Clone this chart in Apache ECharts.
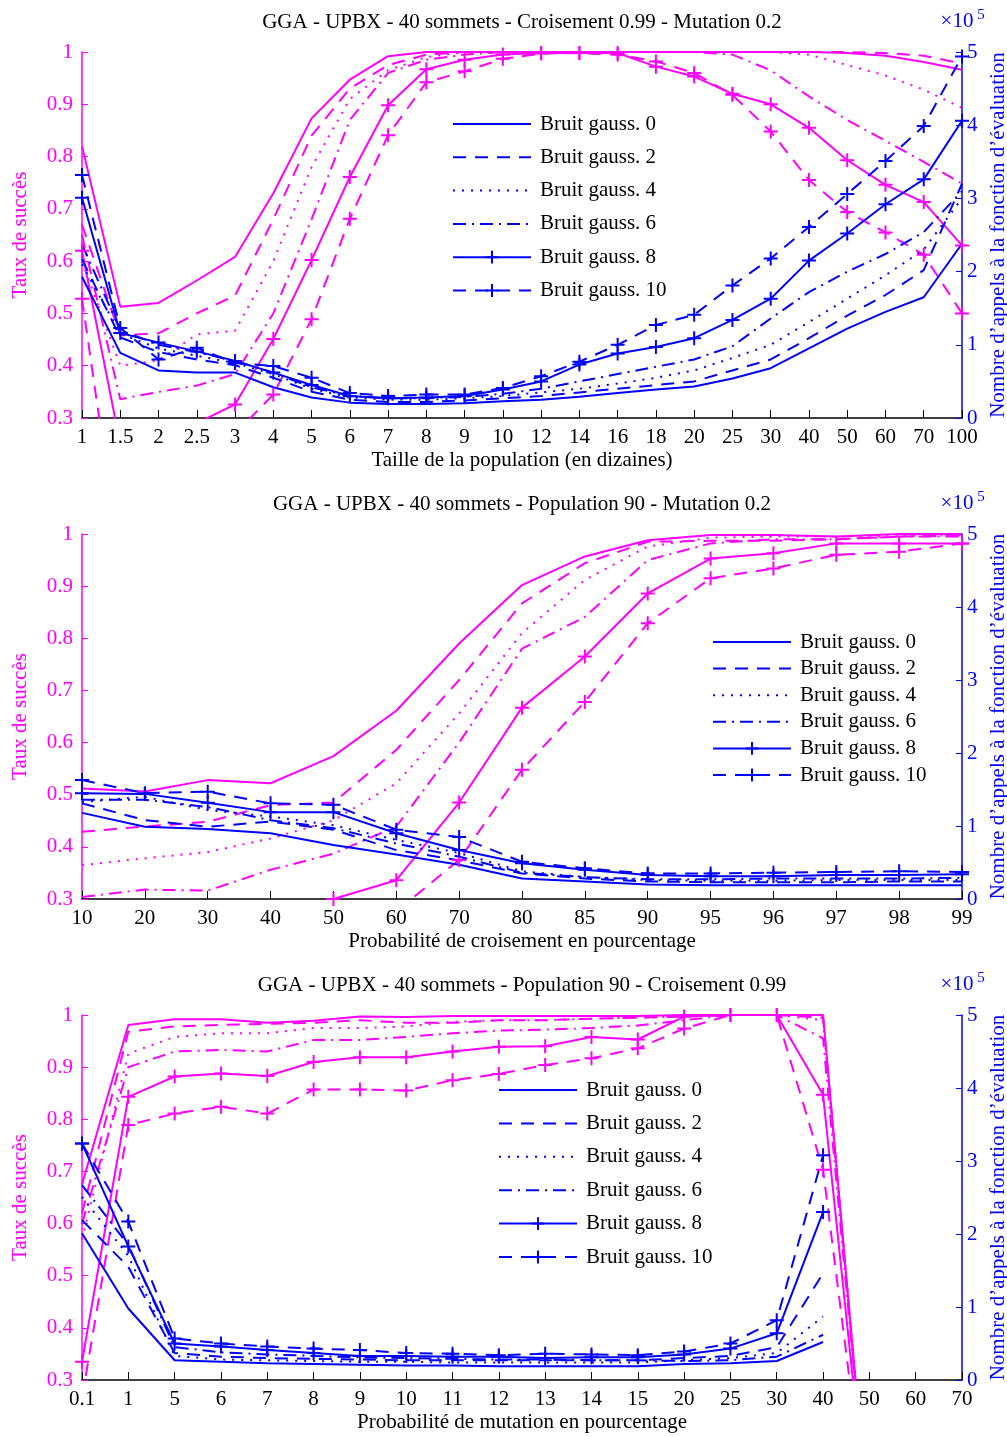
<!DOCTYPE html>
<html>
<head>
<meta charset="utf-8">
<script src="https://cdn.jsdelivr.net/npm/echarts@6/dist/echarts.min.js"></script>
<style>
  html, body { margin: 0; background: #fff; }
  #chart { width: 1007px; height: 1437px; }
</style>
</head>
<body>
<div id="chart"></div>
<script>
// --- panel 1 : taille de la population ---
const popCats = ['1', '1.5', '2', '2.5', '3', '4', '5', '6', '7', '8', '9', '10', '12', '14', '16', '18', '20', '25', '30', '40', '50', '60', '70', '100'];
const popRate0 = [0.82, 0.513, 0.52, 0.563, 0.608, 0.73, 0.873, 0.947, 0.992, 1, 1, 1, 1, 1, 1, 1, 1, 1, 1, 1, 0.998, 0.993, 0.981, 0.966];
const popRate2 = [0.67, 0.458, 0.462, 0.5, 0.534, 0.68, 0.84, 0.93, 0.975, 0.995, 1, 1, 1, 1, 1, 1, 1, 1, 1, 1, 1, 0.998, 0.993, 0.978];
const popRate4 = [0.6, 0.4, 0.41, 0.46, 0.467, 0.6, 0.78, 0.91, 0.965, 0.99, 1, 1, 1, 1, 1, 1, 1, 1, 1, 0.995, 0.975, 0.955, 0.928, 0.893];
const popRate6 = [0.65, 0.336, 0.35, 0.362, 0.384, 0.5, 0.68, 0.87, 0.96, 0.985, 0.995, 1, 1, 1, 1, 1, 1, 0.995, 0.965, 0.915, 0.87, 0.83, 0.79, 0.748];
const popRate8 = [0.62, 0.25, 0.24, 0.29, 0.326, 0.451, 0.602, 0.761, 0.898, 0.967, 0.985, 0.995, 0.998, 0.998, 0.998, 0.972, 0.953, 0.92, 0.9, 0.855, 0.793, 0.746, 0.713, 0.63];
const popRate10 = [0.528, 0.02, 0.1, 0.2, 0.27, 0.345, 0.489, 0.681, 0.841, 0.942, 0.963, 0.987, 0.997, 0.998, 0.995, 0.982, 0.96, 0.918, 0.848, 0.755, 0.694, 0.655, 0.612, 0.5];
// appels à la fonction d'évaluation, en unités de 1e5
const popEval0 = [1.93, 0.89, 0.65, 0.62, 0.62, 0.42, 0.28, 0.21, 0.19, 0.19, 0.2, 0.23, 0.25, 0.29, 0.34, 0.39, 0.43, 0.54, 0.68, 0.95, 1.22, 1.45, 1.65, 2.38];
const popEval2 = [2.17, 1.1, 0.9, 0.8, 0.72, 0.55, 0.36, 0.25, 0.22, 0.22, 0.24, 0.27, 0.3, 0.35, 0.4, 0.45, 0.5, 0.65, 0.8, 1.09, 1.4, 1.68, 2.02, 3.2];
const popEval4 = [2.1, 1.15, 0.95, 0.85, 0.75, 0.6, 0.4, 0.28, 0.25, 0.25, 0.27, 0.3, 0.35, 0.4, 0.47, 0.55, 0.65, 0.82, 1.0, 1.31, 1.63, 1.95, 2.3, 3.0];
const popEval6 = [2.37, 1.2, 1.0, 0.9, 0.78, 0.62, 0.42, 0.3, 0.27, 0.27, 0.29, 0.33, 0.4, 0.5, 0.6, 0.7, 0.8, 0.98, 1.36, 1.72, 2.0, 2.24, 2.54, 3.1];
const popEval8 = [3.01, 1.16, 1.03, 0.91, 0.78, 0.62, 0.45, 0.3, 0.27, 0.28, 0.3, 0.39, 0.5, 0.73, 0.88, 0.97, 1.09, 1.34, 1.63, 2.15, 2.52, 2.92, 3.26, 4.06];
const popEval10 = [3.32, 1.23, 0.8, 0.96, 0.75, 0.71, 0.55, 0.34, 0.3, 0.32, 0.32, 0.41, 0.57, 0.77, 1.0, 1.27, 1.41, 1.81, 2.18, 2.61, 3.06, 3.51, 3.99, 4.94];

// --- panel 2 : probabilité de croisement ---
const crossCats = ['10', '20', '30', '40', '50', '60', '70', '80', '85', '90', '95', '96', '97', '98', '99'];
const crossRate0 = [0.512, 0.506, 0.528, 0.522, 0.574, 0.661, 0.79, 0.902, 0.957, 0.988, 0.998, 0.998, 0.995, 1, 1];
const crossRate2 = [0.429, 0.439, 0.448, 0.48, 0.485, 0.586, 0.72, 0.867, 0.944, 0.985, 0.987, 0.987, 0.99, 0.995, 0.997];
const crossRate4 = [0.365, 0.378, 0.39, 0.416, 0.451, 0.522, 0.656, 0.81, 0.912, 0.976, 0.993, 0.995, 0.995, 0.997, 0.997];
const crossRate6 = [0.304, 0.318, 0.316, 0.356, 0.387, 0.439, 0.6, 0.78, 0.841, 0.95, 0.982, 0.99, 0.99, 0.995, 0.995];
const crossRate8 = [0.2, 0.22, 0.24, 0.25, 0.3, 0.336, 0.485, 0.667, 0.765, 0.886, 0.953, 0.963, 0.982, 0.982, 0.982];
const crossRate10 = [0.1, 0.12, 0.15, 0.2, 0.24, 0.276, 0.375, 0.548, 0.678, 0.829, 0.915, 0.934, 0.96, 0.966, 0.982];
const crossEval0 = [1.18, 0.99, 0.96, 0.9, 0.74, 0.61, 0.47, 0.28, 0.24, 0.2, 0.19, 0.19, 0.19, 0.19, 0.19];
const crossEval2 = [1.31, 1.08, 0.99, 1.06, 0.95, 0.67, 0.53, 0.35, 0.28, 0.24, 0.23, 0.23, 0.23, 0.24, 0.24];
const crossEval4 = [1.33, 1.4, 1.22, 1.13, 1.01, 0.81, 0.63, 0.38, 0.3, 0.26, 0.25, 0.25, 0.26, 0.26, 0.26];
const crossEval6 = [1.36, 1.36, 1.26, 1.08, 0.97, 0.76, 0.58, 0.36, 0.3, 0.27, 0.27, 0.28, 0.28, 0.28, 0.29];
const crossEval8 = [1.45, 1.44, 1.32, 1.19, 1.19, 0.9, 0.67, 0.49, 0.4, 0.33, 0.31, 0.31, 0.33, 0.33, 0.34];
const crossEval10 = [1.63, 1.45, 1.47, 1.31, 1.29, 0.95, 0.85, 0.51, 0.42, 0.35, 0.35, 0.36, 0.37, 0.38, 0.37];

// --- panel 3 : probabilité de mutation ---
const mutCats = ['0.1', '1', '5', '6', '7', '8', '9', '10', '11', '12', '13', '14', '15', '20', '25', '30', '40', '50', '60', '70'];
const mutRate0 = [0.675, 0.981, 0.992, 0.992, 0.985, 0.989, 0.997, 0.996, 0.998, 0.998, 0.998, 0.998, 0.998, 1, 1, 1, 1, 0, 0, 0];
const mutRate2 = [0.62, 0.968, 0.978, 0.981, 0.983, 0.985, 0.99, 0.985, 0.985, 0.99, 0.99, 0.993, 0.995, 0.997, 1, 1, 0.995, 0, 0, 0];
const mutRate4 = [0.57, 0.926, 0.958, 0.965, 0.965, 0.975, 0.975, 0.978, 0.987, 0.99, 0.99, 0.993, 0.995, 0.997, 1, 1, 0.99, 0, 0, 0];
const mutRate6 = [0.6, 0.9, 0.93, 0.933, 0.93, 0.952, 0.952, 0.958, 0.965, 0.97, 0.972, 0.975, 0.98, 0.99, 1, 1, 0.955, 0, 0, 0];
const mutRate8 = [0.335, 0.843, 0.882, 0.888, 0.883, 0.91, 0.919, 0.919, 0.93, 0.939, 0.94, 0.958, 0.953, 0.997, 1, 1, 0.847, 0, 0, 0];
const mutRate10 = [0.266, 0.789, 0.811, 0.824, 0.811, 0.857, 0.857, 0.855, 0.875, 0.887, 0.904, 0.917, 0.936, 0.974, 1, 1, 0.703, 0, 0, 0];
const mutEval0 = [2.01, 0.98, 0.27, 0.25, 0.23, 0.22, 0.21, 0.2, 0.2, 0.19, 0.19, 0.19, 0.19, 0.22, 0.23, 0.26, 0.52];
const mutEval2 = [2.19, 1.55, 0.37, 0.32, 0.3, 0.29, 0.28, 0.27, 0.27, 0.27, 0.27, 0.27, 0.27, 0.3, 0.33, 0.45, 1.46];
const mutEval4 = [2.51, 1.7, 0.33, 0.28, 0.27, 0.26, 0.25, 0.25, 0.24, 0.24, 0.24, 0.24, 0.24, 0.27, 0.3, 0.37, 0.87];
const mutEval6 = [2.67, 1.85, 0.45, 0.38, 0.35, 0.33, 0.31, 0.3, 0.29, 0.28, 0.28, 0.27, 0.27, 0.26, 0.27, 0.32, 0.62];
const mutEval8 = [3.24, 1.83, 0.5, 0.46, 0.41, 0.37, 0.33, 0.33, 0.32, 0.32, 0.3, 0.31, 0.31, 0.35, 0.43, 0.64, 2.3];
const mutEval10 = [3.24, 2.17, 0.57, 0.5, 0.46, 0.43, 0.41, 0.37, 0.36, 0.34, 0.36, 0.35, 0.34, 0.39, 0.5, 0.82, 3.08];

const noiseNames = ['Bruit gauss. 0', 'Bruit gauss. 2', 'Bruit gauss. 4', 'Bruit gauss. 6', 'Bruit gauss. 8', 'Bruit gauss. 10'];

const MAGENTA = '#ff00ff';
const BLUE = '#0000ff';
const FONT = '"Liberation Serif", "DejaVu Serif", serif';
const FS = 21;
const PLUS = 'path://M0,5L10,5M5,0L5,10';

// one style per noise level: solid, dashed, dotted, dash-dot, solid+, dashed+
const STYLES = [
  { type: 'solid', plus: false },
  { type: [13, 9], plus: false },
  { type: [2, 7], plus: false },
  { type: [13, 6, 2, 6], plus: false },
  { type: 'solid', plus: true },
  { type: [13, 9], plus: true },
];

const panels = [
  {
    title: 'GGA - UPBX - 40 sommets - Croisement 0.99 - Mutation 0.2',
    xName: 'Taille de la population (en dizaines)',
    cats: popCats,
    rate: [popRate0, popRate2, popRate4, popRate6, popRate8, popRate10],
    evals: [popEval0, popEval2, popEval4, popEval6, popEval8, popEval10],
    top: 52, height: 366,
    legend: { left: 452, top: 113.5, gap: 12.3 },
  },
  {
    title: 'GGA - UPBX - 40 sommets - Population 90 - Mutation 0.2',
    xName: 'Probabilité de croisement en pourcentage',
    cats: crossCats,
    rate: [crossRate0, crossRate2, crossRate4, crossRate6, crossRate8, crossRate10],
    evals: [crossEval0, crossEval2, crossEval4, crossEval6, crossEval8, crossEval10],
    top: 534, height: 365,
    legend: { left: 712, top: 631.5, gap: 5.6 },
  },
  {
    title: 'GGA - UPBX - 40 sommets - Population 90 - Croisement 0.99',
    xName: 'Probabilité de mutation en pourcentage',
    cats: mutCats,
    rate: [mutRate0, mutRate2, mutRate4, mutRate6, mutRate8, mutRate10],
    evals: [mutEval0, mutEval2, mutEval4, mutEval6, mutEval8, mutEval10],
    top: 1015, height: 365,
    legend: { left: 498, top: 1079.5, gap: 12.4 },
  },
];

function lineSeries(name, data, color, st, xIdx, yIdx) {
  return {
    type: 'line',
    name,
    data,
    xAxisIndex: xIdx,
    yAxisIndex: yIdx,
    clip: true,
    silent: true,
    symbol: st.plus ? PLUS : 'circle',
    symbolSize: st.plus ? 14 : 0,
    showSymbol: st.plus,
    itemStyle: { color: 'transparent', borderColor: color, borderWidth: st.plus ? 2 : 0 },
    lineStyle: { color, width: 2, type: st.type },
    emphasis: { disabled: true },
  };
}

const option = {
  animation: false,
  backgroundColor: '#fff',
  grid: [], xAxis: [], yAxis: [], series: [], legend: [], graphic: [],
};

panels.forEach((p, k) => {
  option.grid.push({ left: 82, right: 45, top: p.top, height: p.height, outerBoundsMode: 'none', containLabel: false });

  option.xAxis.push({
    gridIndex: k,
    type: 'category',
    data: p.cats,
    boundaryGap: false,
    name: p.xName,
    nameLocation: 'middle',
    nameGap: 32,
    nameTextStyle: { color: '#000', fontFamily: FONT, fontSize: FS },
    axisLine: { lineStyle: { color: '#000', width: 1.5 } },
    axisTick: { inside: true, length: 8, lineStyle: { color: '#000' } },
    axisLabel: { interval: 0, color: '#000', fontFamily: FONT, fontSize: FS, margin: 9 },
    splitLine: { show: false },
  });

  option.yAxis.push({
    gridIndex: k,
    type: 'value',
    position: 'left',
    min: 0.3, max: 1, interval: 0.1,
    name: 'Taux de succès',
    nameLocation: 'middle',
    nameGap: 51,
    nameTextStyle: { color: MAGENTA, fontFamily: FONT, fontSize: FS },
    axisLine: { show: true, lineStyle: { color: MAGENTA, width: 1.5 } },
    axisTick: { show: true, inside: true, length: 6, lineStyle: { color: MAGENTA } },
    axisLabel: { color: MAGENTA, fontFamily: FONT, fontSize: FS, margin: 9, formatter: (v) => String(Math.round(v * 10) / 10) },
    splitLine: { show: false },
  });

  option.yAxis.push({
    gridIndex: k,
    type: 'value',
    position: 'right',
    min: 0, max: 5, interval: 1,
    name: 'Nombre d’appels à la fonction d’évaluation',
    nameLocation: 'middle',
    nameGap: 23,
    nameTextStyle: { color: BLUE, fontFamily: FONT, fontSize: FS },
    axisLine: { show: true, lineStyle: { color: BLUE, width: 1.5 } },
    axisTick: { show: true, inside: true, length: 6, lineStyle: { color: BLUE } },
    axisLabel: { color: BLUE, fontFamily: FONT, fontSize: FS, margin: 5 },
    splitLine: { show: false },
  });

  STYLES.forEach((st, j) => {
    option.series.push(lineSeries('Taux ' + k + '-' + j, p.rate[j], MAGENTA, st, k, 2 * k));
  });
  STYLES.forEach((st, j) => {
    option.series.push(lineSeries(noiseNames[j], p.evals[j], BLUE, st, k, 2 * k + 1));
  });

  option.legend.push({
    orient: 'vertical',
    left: p.legend.left,
    top: p.legend.top,
    itemWidth: 78,
    itemHeight: 16,
    itemGap: p.legend.gap,
    padding: 0,
    selectedMode: false,
    data: noiseNames,
    textStyle: { color: '#000', fontFamily: FONT, fontSize: FS, lineHeight: FS, padding: [0, 0, 0, 4] },
  });

  // titre + facteur d'échelle de l'axe de droite
  option.graphic.push(
    {
      type: 'text', x: 522, y: p.top - 30,
      style: { text: p.title, font: FS + 'px ' + FONT, fill: '#000', align: 'center', verticalAlign: 'middle' },
    },
    {
      type: 'text', x: 957, y: p.top - 31,
      style: { text: '×10', font: FS + 'px ' + FONT, fill: BLUE, align: 'center', verticalAlign: 'middle' },
    },
    {
      type: 'text', x: 981, y: p.top - 37,
      style: { text: '5', font: '15px ' + FONT, fill: BLUE, align: 'center', verticalAlign: 'middle' },
    }
  );
});

const chart = echarts.init(document.getElementById('chart'), null, { renderer: 'canvas' });
chart.setOption(option);
</script>
</body>
</html>
